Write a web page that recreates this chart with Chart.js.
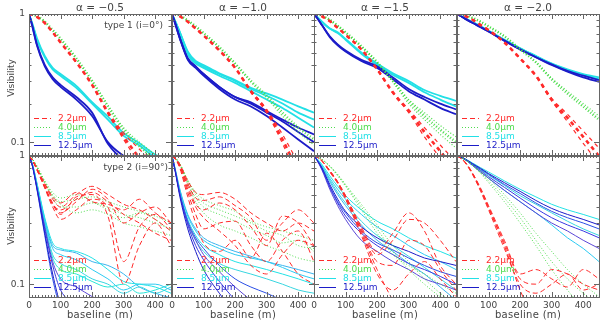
<!DOCTYPE html>
<html>
<head>
<meta charset="utf-8">
<script src="https://cdn.jsdelivr.net/npm/chart.js@4/dist/chart.umd.min.js"></script>
<style>
  body { margin: 0; background: #fff; }
  #wrap { position: relative; width: 600px; height: 322px; overflow: hidden; font-family: "DejaVu Sans", sans-serif; color: #444; }
  #wrap canvas { position: absolute; left: 0; top: 0; }
  .lbl { position: absolute; white-space: nowrap; line-height: 12px; }
  .colTitle { font-size: 10.5px; transform: translateX(-50%); top: 1px; }
  .ytitle { font-size: 9px; transform: translate(-50%, -50%) rotate(-90deg); left: 11px; }
  .xtitle { font-size: 10px; transform: translateX(-50%); top: 309px; letter-spacing: 0.3px; }
  .type { font-size: 9px; transform: translate(-100%, -50%); }
</style>
</head>
<body>
<div id="wrap"></div>
<script>
// baseline (m) sampling used by all curves
var baseline = [0, 10, 25, 50, 75, 100, 150, 200, 250, 300, 350, 400, 450];
var alphas = ['α = −0.5', 'α = −1.0', 'α = −1.5', 'α = −2.0'];
var wavelengths = ['2.2μm', '4.0μm', '8.5μm', '12.5μm'];
var xTickLabels = [0, 100, 200, 300, 400];
var yTickLabels = [0.1, 1];

// ---------- type 1 (i=0°), top row ----------
var t05_red = [
  [1, 0.99, 0.95, 0.85, 0.72, 0.6, 0.42, 0.28, 0.17, 0.11, 0.075, 0.05, 0.035],
  [1, 0.99, 0.95, 0.85, 0.72, 0.6, 0.42, 0.28, 0.175, 0.118, 0.088, 0.066, 0.05],
  [1, 0.99, 0.95, 0.85, 0.72, 0.6, 0.42, 0.28, 0.168, 0.105, 0.068, 0.044, 0.03]
];
var t05_green = [
  [1, 0.99, 0.96, 0.87, 0.75, 0.64, 0.45, 0.3, 0.19, 0.125, 0.093, 0.072, 0.055],
  [1, 0.99, 0.96, 0.87, 0.75, 0.64, 0.45, 0.3, 0.195, 0.13, 0.1, 0.08, 0.065]
];
var t05_cyan = [
  [1, 0.85, 0.65, 0.47, 0.38, 0.34, 0.275, 0.205, 0.158, 0.118, 0.098, 0.08, 0.07],
  [1, 0.84, 0.63, 0.46, 0.37, 0.33, 0.265, 0.2, 0.15, 0.112, 0.094, 0.076, 0.066]
];
var t05_blue = [
  [1, 0.82, 0.58, 0.4, 0.32, 0.28, 0.225, 0.17, 0.097, 0.072, 0.06, 0.05, 0.04],
  [1, 0.81, 0.57, 0.39, 0.31, 0.27, 0.215, 0.16, 0.1, 0.078, 0.065, 0.055, 0.045]
];

var t10_red = [
  [1, 1, 0.96, 0.87, 0.77, 0.68, 0.52, 0.38, 0.25, 0.175, 0.105, 0.06, 0.04],
  [1, 1, 0.96, 0.87, 0.77, 0.68, 0.52, 0.38, 0.255, 0.18, 0.115, 0.07, 0.05],
  [1, 1, 0.96, 0.87, 0.77, 0.68, 0.52, 0.38, 0.245, 0.17, 0.098, 0.052, 0.035]
];
var t10_green = [
  [1, 1, 0.97, 0.89, 0.8, 0.71, 0.55, 0.41, 0.3, 0.23, 0.17, 0.13, 0.105],
  [1, 1, 0.97, 0.89, 0.8, 0.71, 0.55, 0.41, 0.295, 0.22, 0.16, 0.12, 0.095]
];
var t10_cyan = [
  [1, 0.88, 0.72, 0.5, 0.42, 0.39, 0.34, 0.3, 0.26, 0.23, 0.2, 0.17, 0.15],
  [1, 0.87, 0.7, 0.48, 0.41, 0.38, 0.33, 0.29, 0.25, 0.215, 0.185, 0.155, 0.13],
  [1, 0.88, 0.72, 0.51, 0.43, 0.4, 0.345, 0.305, 0.265, 0.24, 0.215, 0.19, 0.17]
];
var t10_blue = [
  [1, 0.85, 0.65, 0.45, 0.39, 0.34, 0.27, 0.225, 0.2, 0.17, 0.145, 0.12, 0.1],
  [1, 0.84, 0.64, 0.44, 0.38, 0.33, 0.26, 0.215, 0.19, 0.16, 0.13, 0.105, 0.085],
  [1, 0.85, 0.65, 0.45, 0.39, 0.34, 0.27, 0.225, 0.205, 0.175, 0.15, 0.13, 0.115]
];

var t15_red = [
  [1, 1, 0.96, 0.88, 0.78, 0.69, 0.53, 0.37, 0.245, 0.175, 0.12, 0.085, 0.06],
  [1, 1, 0.96, 0.88, 0.78, 0.69, 0.53, 0.37, 0.245, 0.18, 0.13, 0.095, 0.07],
  [1, 1, 0.96, 0.88, 0.78, 0.69, 0.53, 0.37, 0.24, 0.17, 0.11, 0.075, 0.05]
];
var t15_green = [
  [1, 1, 0.97, 0.9, 0.81, 0.72, 0.56, 0.42, 0.3, 0.21, 0.16, 0.125, 0.1],
  [1, 1, 0.97, 0.9, 0.81, 0.72, 0.56, 0.42, 0.3, 0.215, 0.17, 0.135, 0.11],
  [1, 1, 0.97, 0.9, 0.81, 0.72, 0.56, 0.42, 0.295, 0.2, 0.15, 0.115, 0.09]
];
var t15_cyan = [
  [1, 0.95, 0.87, 0.77, 0.72, 0.64, 0.5, 0.41, 0.345, 0.3, 0.255, 0.23, 0.21],
  [1, 0.95, 0.87, 0.77, 0.71, 0.63, 0.49, 0.4, 0.335, 0.29, 0.245, 0.215, 0.19]
];
var t15_blue = [
  [1, 0.93, 0.82, 0.67, 0.58, 0.52, 0.44, 0.39, 0.32, 0.26, 0.225, 0.2, 0.18],
  [1, 0.93, 0.82, 0.66, 0.57, 0.51, 0.43, 0.38, 0.31, 0.25, 0.215, 0.185, 0.165]
];

var t20_red = [
  [1, 1, 0.97, 0.9, 0.82, 0.75, 0.6, 0.45, 0.33, 0.215, 0.155, 0.11, 0.078],
  [1, 1, 0.97, 0.9, 0.82, 0.75, 0.6, 0.45, 0.33, 0.22, 0.165, 0.122, 0.09],
  [1, 1, 0.97, 0.9, 0.82, 0.75, 0.6, 0.45, 0.325, 0.21, 0.145, 0.098, 0.068]
];
var t20_green = [
  [1, 1, 0.98, 0.93, 0.87, 0.8, 0.67, 0.53, 0.42, 0.31, 0.24, 0.19, 0.15],
  [1, 1, 0.98, 0.93, 0.87, 0.8, 0.67, 0.53, 0.42, 0.315, 0.25, 0.2, 0.16]
];
var t20_cyan = [
  [1, 0.97, 0.93, 0.86, 0.8, 0.74, 0.63, 0.54, 0.47, 0.41, 0.37, 0.34, 0.32],
  [1, 0.97, 0.93, 0.86, 0.8, 0.74, 0.63, 0.54, 0.47, 0.41, 0.365, 0.335, 0.31]
];
var t20_blue = [
  [1, 0.97, 0.92, 0.85, 0.79, 0.73, 0.62, 0.53, 0.46, 0.405, 0.36, 0.33, 0.305],
  [1, 0.97, 0.92, 0.85, 0.79, 0.73, 0.62, 0.53, 0.46, 0.4, 0.355, 0.32, 0.295]
];

// ---------- type 2 (i=90°), bottom row ----------
var b05_red = [
  [1, 0.94, 0.8, 0.6, 0.46, 0.4, 0.5, 0.58, 0.5, 0.42, 0.38, 0.32, 0.26],
  [1, 0.94, 0.79, 0.58, 0.43, 0.36, 0.44, 0.55, 0.46, 0.3, 0.36, 0.4, 0.3],
  [1, 0.93, 0.78, 0.56, 0.4, 0.32, 0.38, 0.46, 0.4, 0.15, 0.28, 0.35, 0.27],
  [1, 0.93, 0.79, 0.57, 0.42, 0.35, 0.48, 0.5, 0.34, 0.1, 0.2, 0.3, 0.2],
  [1, 0.94, 0.8, 0.61, 0.48, 0.43, 0.52, 0.44, 0.42, 0.38, 0.46, 0.36, 0.3],
  [1, 0.93, 0.78, 0.57, 0.42, 0.38, 0.46, 0.52, 0.44, 0.35, 0.3, 0.25, 0.22]
];
var b05_green = [
  [1, 0.95, 0.83, 0.63, 0.5, 0.44, 0.46, 0.48, 0.44, 0.4, 0.37, 0.34, 0.3],
  [1, 0.95, 0.82, 0.61, 0.47, 0.4, 0.4, 0.43, 0.4, 0.35, 0.33, 0.3, 0.27],
  [1, 0.95, 0.84, 0.64, 0.52, 0.47, 0.5, 0.44, 0.38, 0.33, 0.36, 0.32, 0.26],
  [1, 0.95, 0.82, 0.62, 0.49, 0.42, 0.36, 0.38, 0.35, 0.3, 0.28, 0.26, 0.24]
];
var b05_cyan = [
  [1, 0.88, 0.62, 0.33, 0.21, 0.19, 0.18, 0.16, 0.13, 0.105, 0.1, 0.095, 0.085],
  [1, 0.87, 0.6, 0.31, 0.19, 0.17, 0.155, 0.13, 0.11, 0.09, 0.1, 0.1, 0.09],
  [1, 0.87, 0.59, 0.3, 0.17, 0.145, 0.13, 0.11, 0.1, 0.085, 0.095, 0.085, 0.095],
  [1, 0.88, 0.61, 0.32, 0.2, 0.185, 0.175, 0.15, 0.14, 0.12, 0.095, 0.085, 0.078],
  [1, 0.86, 0.58, 0.29, 0.16, 0.13, 0.12, 0.105, 0.095, 0.1, 0.085, 0.09, 0.1]
];
var b05_blue = [
  [1, 0.85, 0.56, 0.25, 0.12, 0.07, 0.05, 0.04, 0.04, 0.04, 0.04, 0.04, 0.04],
  [1, 0.86, 0.57, 0.27, 0.14, 0.09, 0.07, 0.06, 0.05, 0.05, 0.05, 0.05, 0.05],
  [1, 0.86, 0.57, 0.28, 0.15, 0.11, 0.095, 0.08, 0.07, 0.06, 0.06, 0.06, 0.06],
  [1, 0.85, 0.55, 0.24, 0.11, 0.065, 0.045, 0.04, 0.04, 0.04, 0.04, 0.04, 0.04]
];

var b10_red = [
  [1, 0.96, 0.86, 0.64, 0.52, 0.5, 0.52, 0.46, 0.36, 0.3, 0.26, 0.3, 0.26],
  [1, 0.96, 0.84, 0.58, 0.42, 0.38, 0.43, 0.38, 0.28, 0.2, 0.34, 0.3, 0.2],
  [1, 0.95, 0.82, 0.52, 0.35, 0.27, 0.3, 0.31, 0.2, 0.15, 0.22, 0.26, 0.15],
  [1, 0.95, 0.8, 0.48, 0.3, 0.21, 0.18, 0.22, 0.16, 0.25, 0.18, 0.12, 0.1],
  [1, 0.96, 0.85, 0.61, 0.47, 0.45, 0.48, 0.41, 0.33, 0.22, 0.3, 0.38, 0.3],
  [1, 0.95, 0.83, 0.55, 0.4, 0.33, 0.26, 0.2, 0.14, 0.12, 0.17, 0.22, 0.2]
];
var b10_green = [
  [1, 0.97, 0.87, 0.65, 0.52, 0.46, 0.41, 0.37, 0.31, 0.28, 0.26, 0.24, 0.22],
  [1, 0.97, 0.86, 0.62, 0.47, 0.4, 0.35, 0.31, 0.27, 0.24, 0.21, 0.22, 0.18],
  [1, 0.96, 0.85, 0.6, 0.44, 0.36, 0.29, 0.26, 0.23, 0.2, 0.18, 0.16, 0.15],
  [1, 0.97, 0.87, 0.64, 0.5, 0.43, 0.38, 0.34, 0.3, 0.26, 0.24, 0.2, 0.19]
];
var b10_cyan = [
  [1, 0.78, 0.52, 0.32, 0.24, 0.2, 0.17, 0.15, 0.14, 0.13, 0.12, 0.11, 0.1],
  [1, 0.79, 0.54, 0.34, 0.26, 0.22, 0.19, 0.17, 0.16, 0.15, 0.135, 0.12, 0.11],
  [1, 0.78, 0.51, 0.3, 0.22, 0.18, 0.145, 0.13, 0.12, 0.11, 0.1, 0.09, 0.085],
  [1, 0.8, 0.55, 0.35, 0.27, 0.23, 0.2, 0.18, 0.165, 0.15, 0.14, 0.13, 0.12]
];
var b10_blue = [
  [1, 0.76, 0.48, 0.27, 0.18, 0.13, 0.085, 0.06, 0.05, 0.04, 0.04, 0.04, 0.04],
  [1, 0.77, 0.5, 0.29, 0.2, 0.155, 0.105, 0.075, 0.055, 0.045, 0.04, 0.04, 0.04],
  [1, 0.77, 0.5, 0.3, 0.22, 0.17, 0.125, 0.095, 0.075, 0.06, 0.05, 0.045, 0.04],
  [1, 0.78, 0.51, 0.31, 0.23, 0.19, 0.14, 0.11, 0.095, 0.085, 0.075, 0.07, 0.065]
];

var b15_red = [
  [1, 0.98, 0.92, 0.76, 0.62, 0.47, 0.25, 0.13, 0.075, 0.05, 0.04, 0.04, 0.04],
  [1, 0.98, 0.92, 0.77, 0.63, 0.49, 0.27, 0.17, 0.22, 0.32, 0.3, 0.22, 0.15],
  [1, 0.98, 0.92, 0.76, 0.62, 0.48, 0.26, 0.15, 0.14, 0.22, 0.2, 0.13, 0.09],
  [1, 0.98, 0.91, 0.75, 0.61, 0.46, 0.24, 0.12, 0.09, 0.12, 0.15, 0.11, 0.08],
  [1, 0.98, 0.92, 0.77, 0.63, 0.49, 0.28, 0.18, 0.25, 0.36, 0.26, 0.14, 0.1]
];
var b15_green = [
  [1, 0.98, 0.94, 0.83, 0.71, 0.59, 0.4, 0.27, 0.18, 0.13, 0.1, 0.08, 0.07],
  [1, 0.98, 0.94, 0.83, 0.7, 0.58, 0.38, 0.25, 0.17, 0.14, 0.12, 0.1, 0.085],
  [1, 0.98, 0.94, 0.84, 0.72, 0.6, 0.42, 0.29, 0.2, 0.15, 0.11, 0.085, 0.07]
];
var b15_cyan = [
  [1, 0.95, 0.86, 0.7, 0.58, 0.49, 0.38, 0.31, 0.27, 0.23, 0.2, 0.18, 0.16],
  [1, 0.94, 0.84, 0.67, 0.55, 0.46, 0.35, 0.28, 0.24, 0.2, 0.17, 0.15, 0.13],
  [1, 0.94, 0.83, 0.65, 0.52, 0.43, 0.31, 0.24, 0.2, 0.165, 0.135, 0.11, 0.09],
  [1, 0.93, 0.82, 0.63, 0.5, 0.41, 0.29, 0.22, 0.18, 0.145, 0.12, 0.095, 0.075]
];
var b15_blue = [
  [1, 0.93, 0.81, 0.6, 0.46, 0.37, 0.28, 0.23, 0.2, 0.18, 0.16, 0.15, 0.14],
  [1, 0.92, 0.79, 0.57, 0.43, 0.34, 0.25, 0.2, 0.17, 0.145, 0.13, 0.115, 0.1],
  [1, 0.92, 0.78, 0.55, 0.41, 0.32, 0.22, 0.18, 0.15, 0.13, 0.11, 0.1, 0.09],
  [1, 0.93, 0.8, 0.58, 0.44, 0.36, 0.26, 0.21, 0.185, 0.16, 0.14, 0.125, 0.115]
];

var b20_red = [
  [1, 0.97, 0.9, 0.72, 0.54, 0.39, 0.2, 0.09, 0.05, 0.04, 0.04, 0.04, 0.04],
  [1, 0.97, 0.9, 0.73, 0.55, 0.4, 0.21, 0.11, 0.1, 0.13, 0.12, 0.1, 0.09],
  [1, 0.97, 0.9, 0.73, 0.56, 0.41, 0.22, 0.12, 0.13, 0.11, 0.095, 0.13, 0.11],
  [1, 0.97, 0.89, 0.71, 0.53, 0.38, 0.19, 0.1, 0.085, 0.1, 0.12, 0.09, 0.1]
];
var b20_green = [
  [1, 0.98, 0.94, 0.84, 0.73, 0.62, 0.44, 0.3, 0.2, 0.13, 0.09, 0.065, 0.05],
  [1, 0.98, 0.94, 0.85, 0.76, 0.67, 0.5, 0.36, 0.25, 0.18, 0.13, 0.1, 0.08],
  [1, 0.98, 0.94, 0.84, 0.74, 0.64, 0.47, 0.33, 0.22, 0.15, 0.11, 0.085, 0.07]
];
var b20_cyan = [
  [1, 0.98, 0.95, 0.88, 0.81, 0.75, 0.64, 0.55, 0.48, 0.42, 0.38, 0.35, 0.32],
  [1, 0.98, 0.94, 0.84, 0.75, 0.67, 0.54, 0.44, 0.36, 0.29, 0.23, 0.19, 0.15],
  [1, 0.98, 0.94, 0.86, 0.78, 0.71, 0.59, 0.49, 0.42, 0.36, 0.31, 0.27, 0.24]
];
var b20_blue = [
  [1, 0.98, 0.95, 0.87, 0.8, 0.73, 0.62, 0.53, 0.45, 0.39, 0.35, 0.32, 0.29],
  [1, 0.98, 0.94, 0.85, 0.77, 0.69, 0.57, 0.47, 0.39, 0.33, 0.29, 0.26, 0.23],
  [1, 0.98, 0.94, 0.84, 0.75, 0.67, 0.54, 0.44, 0.36, 0.3, 0.26, 0.22, 0.19],
  [1, 0.98, 0.95, 0.86, 0.79, 0.72, 0.6, 0.51, 0.43, 0.37, 0.33, 0.3, 0.27]
];

// ---------- layout ----------
var colLeft = [29, 172, 314, 457];
var panelW = 142;
var rowTop = [14, 156];
var rowBottom = [155, 297];
var yMin = 0.0794;

var RED = '#ff2a2a', GREEN = '#4ddc4d', CYAN = '#22e0e6', BLUE = '#1c1cc8';
var cyanShades = ['#22e2e6', '#2ccaf2', '#38d6e0', '#3ab4ee', '#28e6d8'];
var blueShades = ['#1c1cc8', '#3838e2', '#5a46d6', '#2a4ee6'];

var panels = [
  { r: 0, c: 0, red: t05_red, green: t05_green, cyan: t05_cyan, blue: t05_blue },
  { r: 0, c: 1, red: t10_red, green: t10_green, cyan: t10_cyan, blue: t10_blue },
  { r: 0, c: 2, red: t15_red, green: t15_green, cyan: t15_cyan, blue: t15_blue },
  { r: 0, c: 3, red: t20_red, green: t20_green, cyan: t20_cyan, blue: t20_blue },
  { r: 1, c: 0, red: b05_red, green: b05_green, cyan: b05_cyan, blue: b05_blue },
  { r: 1, c: 1, red: b10_red, green: b10_green, cyan: b10_cyan, blue: b10_blue },
  { r: 1, c: 2, red: b15_red, green: b15_green, cyan: b15_cyan, blue: b15_blue },
  { r: 1, c: 3, red: b20_red, green: b20_green, cyan: b20_cyan, blue: b20_blue }
];

function pts(vals) {
  return baseline.map((b, i) => ({ x: b, y: vals[i] }));
}

// frame with inward ticks on all four sides (IDL look)
var framePlugin = {
  id: 'frame',
  afterDatasetsDraw(chart) {
    var ctx = chart.ctx, a = chart.chartArea, x = chart.scales.x, y = chart.scales.y;
    ctx.save();
    ctx.strokeStyle = '#666';
    ctx.lineWidth = 1;
    ctx.setLineDash([]);
    ctx.strokeRect(a.left + 0.5, a.top + 0.5, a.right - a.left, a.bottom - a.top);
    ctx.beginPath();
    for (var v = 0; v <= 450; v += 10) {
      var px = Math.round(x.getPixelForValue(v)) + 0.5;
      var len = (v % 100 === 0) ? 5 : 2;
      ctx.moveTo(px, a.bottom); ctx.lineTo(px, a.bottom - len);
      ctx.moveTo(px, a.top); ctx.lineTo(px, a.top + len);
    }
    for (var k = 1; k <= 10; k++) {
      var py = Math.round(y.getPixelForValue(k / 10)) + 0.5;
      var l2 = (k === 1 || k === 10) ? 5 : 2.5;
      ctx.moveTo(a.left, py); ctx.lineTo(a.left + l2, py);
      ctx.moveTo(a.right, py); ctx.lineTo(a.right - l2, py);
    }
    ctx.stroke();
    ctx.restore();
  }
};

// small legend in the lower left of each panel
var legendPlugin = {
  id: 'panelLegend',
  afterDraw(chart) {
    var ctx = chart.ctx, a = chart.chartArea;
    var styles = [
      { color: RED, dash: [5, 3] },
      { color: GREEN, dash: [1, 2] },
      { color: CYAN, dash: [] },
      { color: BLUE, dash: [] }
    ];
    var rows = [104, 113, 122, 131];
    ctx.save();
    ctx.font = '9px "DejaVu Sans"';
    ctx.textBaseline = 'middle';
    styles.forEach((s, i) => {
      var yy = a.top + rows[i] + 0.5;
      ctx.strokeStyle = s.color;
      ctx.lineWidth = 1;
      ctx.setLineDash(s.dash);
      ctx.beginPath();
      ctx.moveTo(a.left + 5, yy);
      ctx.lineTo(a.left + 22, yy);
      ctx.stroke();
      ctx.fillStyle = s.color;
      ctx.fillText(wavelengths[i], a.left + 29, yy);
    });
    ctx.restore();
  }
};

var wrap = document.getElementById('wrap');

panels.forEach(p => {
  var cv = document.createElement('canvas');
  cv.width = 600; cv.height = 322;
  wrap.appendChild(cv);

  var top = p.r === 0;
  var sets = [];
  // red on top, then green, then blue, then cyan (first dataset is drawn last)
  p.red.forEach((v, i) => sets.push({
    data: pts(v), borderColor: RED,
    borderWidth: top ? (i === 0 ? 2.6 : 1.2) : 1,
    borderDash: top ? [4, 4] : [5, 3]
  }));
  p.green.forEach((v, i) => sets.push({
    data: pts(v), borderColor: GREEN,
    borderWidth: top ? (i === 0 ? 2.6 : 1.2) : 1,
    borderDash: [1, 2]
  }));
  p.blue.forEach((v, i) => sets.push({
    data: pts(v), borderColor: top ? BLUE : blueShades[i % blueShades.length],
    borderWidth: top ? 1.8 : 1
  }));
  p.cyan.forEach((v, i) => sets.push({
    data: pts(v), borderColor: top ? CYAN : cyanShades[i % cyanShades.length],
    borderWidth: top ? 1.8 : 1
  }));
  sets.forEach(s => {
    s.pointRadius = 0;
    s.fill = false;
    s.clip = 0;
    s.cubicInterpolationMode = 'monotone';
  });

  // the axis boxes take the whole margin left of / below the panel,
  // so tick labels are not clipped away
  var leftSpace = colLeft[p.c];
  var bottomSpace = 322 - rowBottom[p.r];

  new Chart(cv.getContext('2d'), {
    type: 'line',
    data: { datasets: sets },
    options: {
      responsive: false,
      animation: false,
      events: [],
      layout: {
        padding: {
          left: 0,
          right: 600 - (colLeft[p.c] + panelW),
          top: rowTop[p.r],
          bottom: 0
        }
      },
      plugins: { legend: { display: false }, tooltip: { enabled: false } },
      scales: {
        x: {
          type: 'linear', min: 0, max: 450,
          grid: { display: false, drawTicks: false },
          border: { display: false },
          afterBuildTicks: s => { s.ticks = xTickLabels.map(v => ({ value: v })); },
          afterFit: s => { s.height = bottomSpace; },
          ticks: {
            display: p.r === 1, autoSkip: false, maxRotation: 0, minRotation: 0, padding: 3,
            color: '#444', font: { family: 'DejaVu Sans', size: 9 }
          }
        },
        y: {
          type: 'logarithmic', min: yMin, max: 1,
          grid: { display: false, drawTicks: false },
          border: { display: false },
          afterBuildTicks: s => { s.ticks = yTickLabels.map(v => ({ value: v })); },
          afterFit: s => { s.width = leftSpace; },
          ticks: {
            display: p.c === 0, autoSkip: false, padding: 4,
            color: '#444', font: { family: 'DejaVu Sans', size: 9 },
            callback: v => String(v)
          }
        }
      }
    },
    plugins: [framePlugin, legendPlugin]
  });
});

// text labels
function addLabel(cls, text, left, top) {
  var d = document.createElement('div');
  d.className = 'lbl ' + cls;
  d.textContent = text;
  d.style.left = left + 'px';
  if (top !== null) d.style.top = top + 'px';
  wrap.appendChild(d);
}
alphas.forEach((t, c) => addLabel('colTitle', t, colLeft[c] + panelW / 2, null));
alphas.forEach((t, c) => addLabel('xtitle', 'baseline (m)', colLeft[c] + panelW / 2, null));
addLabel('ytitle', 'Visibility', 11, 78);
addLabel('ytitle', 'Visibility', 11, 226);
addLabel('type', 'type 1 (i=0°)', colLeft[0] + 134, 25);
addLabel('type', 'type 2 (i=90°)', colLeft[0] + 139, 167);
</script>
</body>
</html>
